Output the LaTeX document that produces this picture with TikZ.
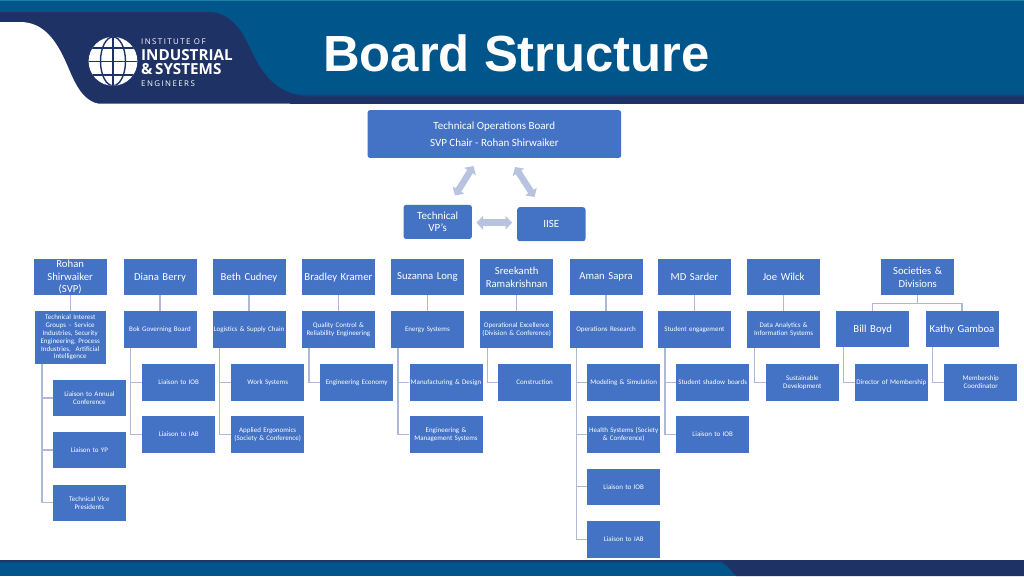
\documentclass[tikz,border=0pt]{standalone}
\usepackage{fontspec}
\setmainfont{Carlito}
\newfontfamily\arialb{Liberation Sans}
\newfontfamily\logof{Open Sans}
\newfontfamily\logot[LetterSpace=18]{Open Sans}
\usetikzlibrary{arrows.meta,shadings}
\definecolor{hdrblue}{HTML}{00558A}
\definecolor{navy}{HTML}{1F3265}
\definecolor{boxblue}{HTML}{4472C4}
\definecolor{linec}{HTML}{AEB9D8}
\definecolor{arrowc}{HTML}{B8C3E0}
\definecolor{teal}{HTML}{1B7FA3}
\tikzset{
  every node/.style={text=white,inner sep=0pt,align=center},
  base/.style={fill=boxblue,anchor=north west,draw=none,text width=#1},
  base/.default=73pt,
  namebox/.style={base,minimum width=73pt,minimum height=36pt,font=\fontsize{10.7}{12.6}\selectfont},
  smallbox/.style={base,minimum width=73pt,minimum height=36.5pt,font=\fontsize{7}{7.9}\selectfont},
  roundbox/.style={fill=boxblue,anchor=north west,rounded corners=2.5pt,font=\fontsize{11}{12.6}\selectfont},
  conn/.style={draw=linec,line width=1.35pt},
  blockarrow/.style={draw=arrowc,line width=6.5pt,{Triangle[length=6.5pt,width=13.5pt]}-{Triangle[length=6.5pt,width=13.5pt]}},
}
\newcommand{\ctree}[2]{\draw[conn] ([xshift=7.2pt]#1.south west) |- (#2.west);}
\begin{document}
\begin{tikzpicture}[x=1pt,y=-1pt]
\useasboundingbox (0,0) rectangle (1024,576);
\fill[white] (0,0) rectangle (1024,576);
% header
\fill[hdrblue] (0,0) rectangle (1024,96);
\fill[teal] (0,0) rectangle (1024,1);
\shade[top color=hdrblue,bottom color=navy] (290,93) rectangle (1024,97);
\fill[navy] (290,97) rectangle (1024,103.7);
\fill[navy] (0,12) -- (208,12) .. controls (226,12) and (238,24) .. (247,42) .. controls (256,60) and (268,93) .. (305,96) -- (305,103.7) -- (0,103.7) -- cycle;
\fill[white] (-1,22) -- (20,22) .. controls (42,22) and (54,38) .. (63,56) .. controls (72,74) and (78,99) .. (98,103.7) -- (98,105) -- (-1,105) -- cycle;
% globe
\begin{scope}
\fill[white] (113,61.3) circle (24.4);
\clip (113,61.3) circle (24.4);
\draw[navy,line width=1.4pt] (113,36) -- (113,87);
\draw[navy,line width=1.4pt] (88,61.3) -- (138,61.3);
\draw[navy,line width=1.4pt] (88,48) -- (138,48);
\draw[navy,line width=1.4pt] (88,75) -- (138,75);
\draw[navy,line width=1.4pt] (113,61.3) ellipse (12.5 and 24.4);
\end{scope}
\node[anchor=base west,font=\logot\fontsize{7.9}{8}\selectfont] (lg1) at (141,44.5) {INSTITUTE OF};
\node[anchor=base west,font=\logof\bfseries\fontsize{15.2}{15}\selectfont] (lg2) at (141,60) {INDUSTRIAL};
\node[anchor=base west,font=\logof\bfseries\fontsize{15.2}{15}\selectfont] (lg3) at (141,74.5) {\&\,SYSTEMS};
\node[anchor=base west,font=\logot\fontsize{7.9}{8}\selectfont] (lg4) at (141,86) {ENGINEERS};
\node[anchor=base west,font=\arialb\bfseries\fontsize{50.8}{50}\selectfont] (title) at (323,71.7) {Board Structure};
% footer
\fill[hdrblue] (0,560) rectangle (1024,576);
\shade[top color=navy,bottom color=hdrblue] (0,560) rectangle (1024,563);
\fill[navy] (1024,560) -- (716,560) .. controls (724,561) and (729,568) .. (736,576) -- (1024,576) -- cycle;
% top triangle
\node[roundbox,minimum width=253.7pt,minimum height=47.7pt] (top) at (367.3,110) {Technical Operations Board\\[4.4pt]SVP Chair - Rohan Shirwaiker};
\node[roundbox,minimum width=68.4pt,minimum height=34pt] (tvp) at (403.3,204.7) {Technical\\VP's};
\node[roundbox,minimum width=68.3pt,minimum height=34pt] (iise) at (517,207) {IISE};
\coordinate (a1) at (455,195.5);
\coordinate (a2) at (473.5,166);
\coordinate (b1) at (515,167);
\coordinate (b2) at (534.5,197);
\coordinate (c1) at (476.5,222.7);
\coordinate (c2) at (512,222.7);
\draw[blockarrow] (a1) -- (a2);
\draw[blockarrow] (b1) -- (b2);
\draw[blockarrow] (c1) -- (c2);
% names
\node[namebox] (n1) at (33.5,259) {Rohan\\Shirwaiker\\(SVP)};
\node[namebox] (n2) at (123.3,259) {Diana Berry};
\node[namebox] (n3) at (212.3,259) {Beth Cudney};
\node[namebox] (n4) at (301.7,259) {Bradley Kramer};
\node[namebox] (n5) at (390.7,259) {Suzanna Long};
\node[namebox] (n6) at (480,259) {Sreekanth\\Ramakrishnan};
\node[namebox] (n7) at (569.3,259) {Aman Sapra};
\node[namebox] (n8) at (657.7,259) {MD Sarder};
\node[namebox] (n9) at (747,259) {Joe Wilck};
\node[namebox] (n10) at (881,259) {Societies \&\\Divisions};
% second level
\node[smallbox,minimum width=70.6pt,minimum height=52.3pt,text width=70.6pt] (t1) at (34.7,311) {Technical Interest\\Groups -- Service\\Industries, Security\\Engineering, Process\\Industries,\ \ Artificial\\Intelligence};
\node[smallbox] (t2) at (123.3,311) {Bok Governing Board};
\node[smallbox] (t3) at (212.3,311) {Logistics \& Supply Chain};
\node[smallbox] (t4) at (301.7,311) {Quality Control \&\\Reliability Engineering};
\node[smallbox] (t5) at (390.7,311) {Energy Systems};
\node[smallbox] (t6) at (480,311) {Operational Excellence\\(Division \& Conference)};
\node[smallbox] (t7) at (569.3,311) {Operations Research};
\node[smallbox] (t8) at (657.7,311) {Student engagement};
\node[smallbox] (t9) at (747,311) {Data Analytics \&\\Information Systems};
\node[namebox] (t10) at (836,311) {Bill Boyd};
\node[namebox] (t11) at (925.3,311) {Kathy Gamboa};
% third level and below
\node[smallbox] (a) at (52.7,379.7) {Liaison to Annual\\Conference};
\node[smallbox] (b) at (52.7,431.7) {Liaison to YP};
\node[smallbox] (c) at (52.7,484.3) {Technical Vice\\Presidents};
\node[smallbox] (d1) at (142,364) {Liaison to IOB};
\node[smallbox] (d2) at (142,416) {Liaison to IAB};
\node[smallbox] (e1) at (231,364) {Work Systems};
\node[smallbox] (e2) at (231,416) {Applied Ergonomics\\(Society \& Conference)};
\node[smallbox] (f1) at (320,364) {Engineering Economy};
\node[smallbox] (g1) at (409.3,364) {Manufacturing \& Design};
\node[smallbox] (g2) at (409.3,416) {Engineering \&\\Management Systems};
\node[smallbox] (h1) at (498,364) {Construction};
\node[smallbox] (i1) at (587,364) {Modeling \& Simulation};
\node[smallbox] (i2) at (587,416) {Health Systems (Society\\\& Conference)};
\node[smallbox] (i3) at (587,468.3) {Liaison to IOB};
\node[smallbox] (i4) at (587,521) {Liaison to IAB};
\node[smallbox] (j1) at (676,364) {Student shadow boards};
\node[smallbox] (j2) at (676,416) {Liaison to IOB};
\node[smallbox] (k1) at (765.7,364) {Sustainable\\Development};
\node[smallbox] (l1) at (854.7,364) {Director of Membership};
\node[smallbox] (m1) at (944,364) {Membership\\Coordinator};
% connectors
\foreach \p/\c in {n1/t1,n2/t2,n3/t3,n4/t4,n5/t5,n6/t6,n7/t7,n8/t8,n9/t9}{\draw[conn] (\p) -- (\c);}
\draw[conn] (n10.south) -- ++(0,8) -| (t10.north);
\draw[conn] (n10.south) -- ++(0,8) -| (t11.north);
\foreach \p/\c in {t1/a,t1/b,t1/c,t2/d1,t2/d2,t3/e1,t3/e2,t4/f1,t5/g1,t5/g2,t6/h1,t7/i1,t7/i2,t7/i3,t7/i4,t8/j1,t8/j2,t9/k1,t10/l1,t11/m1}{\ctree{\p}{\c}}
\end{tikzpicture}
\end{document}
